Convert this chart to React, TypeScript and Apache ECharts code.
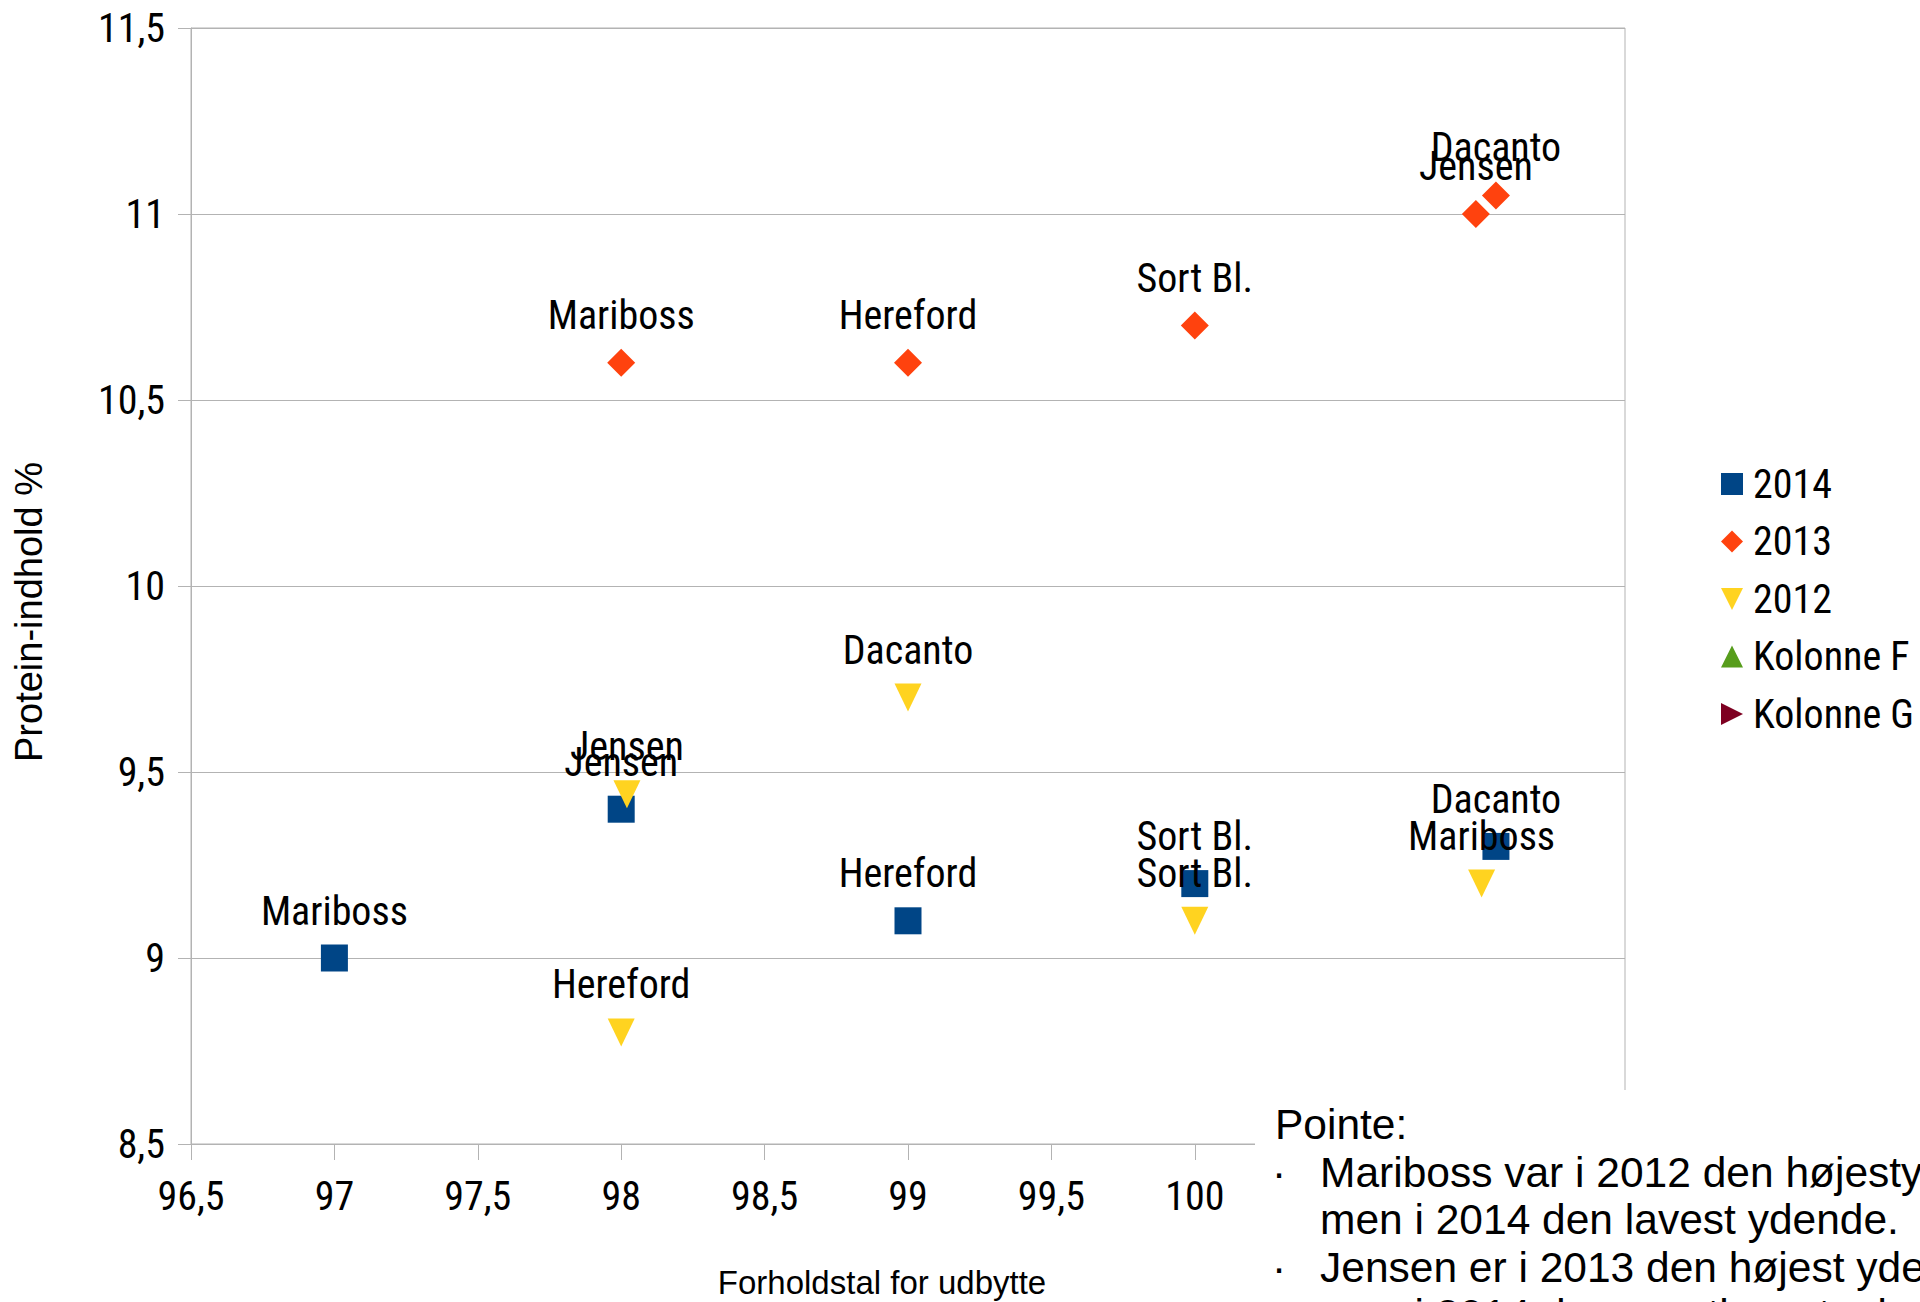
import React, { useEffect, useRef } from "react";
import * as echarts from "echarts";

const seriesNames = ["2014", "2013", "2012", "Kolonne F", "Kolonne G"];
const seriesColors = ["#004586", "#ff420e", "#ffd320", "#579d1c", "#7e0021"];

const names2014 = ["Mariboss", "Jensen", "Hereford", "Sort Bl.", "Dacanto"];
const x2014 = [97, 98, 99, 100, 101.05];
const y2014 = [9.0, 9.4, 9.1, 9.2, 9.3];

const names2013 = ["Mariboss", "Hereford", "Sort Bl.", "Jensen", "Dacanto"];
const x2013 = [98, 99, 100, 100.98, 101.05];
const y2013 = [10.6, 10.6, 10.7, 11.0, 11.05];

const names2012 = ["Hereford", "Jensen", "Dacanto", "Sort Bl.", "Mariboss"];
const x2012 = [98, 98.02, 99, 100, 101.0];
const y2012 = [8.8, 9.44, 9.7, 9.1, 9.2];

const xTitle = "Forholdstal for udbytte";
const yTitle = "Protein-indhold %";
const noteTitle = "Pointe:";
const noteLines = [
  "Mariboss var i 2012 den højestydende,",
  "men i 2014 den lavest ydende.",
  "Jensen er i 2013 den højest ydende,",
  "men i 2014 den næstlavest ydende.",
];
const noteBullets = ["·", "", "·", ""];

const FONT = '"Liberation Sans", Arial, sans-serif';
const NARROW = '"Roboto Condensed", "Liberation Sans", sans-serif';
const LABEL_SIZE = 40;

const DOWN_TRI = "path://M0,0 L10,0 L5,10 Z";
const RIGHT_TRI = "path://M0,0 L10,5 L0,10 Z";
const seriesSymbols = ["rect", "diamond", DOWN_TRI, "triangle", RIGHT_TRI];
const seriesSizes: any[] = [27, 28, [27, 28], 27, 27];

function pts(names: string[], xs: number[], ys: number[]) {
  return names.map((n, i) => ({ name: n, value: [xs[i], ys[i]] }));
}

export default function App() {
  const ref = useRef<HTMLDivElement>(null);
  useEffect(() => {
    if (!ref.current) return;
    const chart = echarts.init(ref.current, null, { renderer: "svg" });
    const datasets = [
      pts(names2014, x2014, y2014),
      pts(names2013, x2013, y2013),
      pts(names2012, x2012, y2012),
      [],
      [],
    ];
    const fmt = (v: number) => String(v).replace(".", ",");
    const noteGraphics: any[] = [];
    const noteStyle = { fontSize: 42.5, fontFamily: FONT, fill: "#000", textVerticalAlign: "middle" };
    noteGraphics.push({ type: "text", x: 1275, y: 1124, z: 101, style: { ...noteStyle, text: noteTitle } });
    noteLines.forEach((t, i) => {
      const y = 1172 + i * 47.6;
      if (noteBullets[i]) {
        noteGraphics.push({ type: "text", x: 1272, y, z: 101, style: { ...noteStyle, text: noteBullets[i] } });
      }
      noteGraphics.push({ type: "text", x: 1320, y, z: 101, style: { ...noteStyle, text: t } });
    });

    chart.setOption({
      animation: false,
      backgroundColor: "#fff",
      grid: {
        left: 191,
        right: 295,
        top: 28,
        bottom: 158,
        show: true,
        borderColor: "#b3b3b3",
        borderWidth: 1,
        containLabel: false,
      },
      xAxis: {
        type: "value",
        min: 96.5,
        max: 101.5,
        interval: 0.5,
        axisLine: { show: true, onZero: false, lineStyle: { color: "#b3b3b3", width: 1 } },
        axisTick: { show: true, inside: false, length: 16, lineStyle: { color: "#b3b3b3" } },
        splitLine: { show: false },
        axisLabel: { formatter: fmt, fontSize: LABEL_SIZE, fontFamily: NARROW, color: "#000", margin: 32 },
      },
      yAxis: {
        type: "value",
        min: 8.5,
        max: 11.5,
        interval: 0.5,
        axisLine: { show: true, onZero: false, lineStyle: { color: "#b3b3b3", width: 1 } },
        axisTick: { show: true, inside: false, length: 13, lineStyle: { color: "#b3b3b3" } },
        splitLine: { show: true, lineStyle: { color: "#b3b3b3", width: 1 } },
        axisLabel: { formatter: fmt, fontSize: LABEL_SIZE, fontFamily: NARROW, color: "#000", margin: 26 },
      },
      legend: {
        orient: "vertical",
        left: 1716,
        top: 459,
        itemWidth: 22,
        itemHeight: 22,
        itemGap: 17.5,
        textStyle: { fontSize: LABEL_SIZE, fontFamily: NARROW, color: "#000", padding: [0, 0, 0, 5] },
        data: seriesNames.map((n, i) => ({ name: n, icon: seriesSymbols[i] })),
      },
      graphic: [
        { type: "rect", z: 100, shape: { x: 1255, y: 1090, width: 665, height: 212 }, style: { fill: "#fff" } },
        {
          type: "text",
          x: 882,
          y: 1282,
          style: { text: xTitle, fontSize: 33, fontFamily: FONT, fill: "#000", textAlign: "center", textVerticalAlign: "middle" },
        },
        {
          type: "text",
          x: 29,
          y: 612,
          rotation: Math.PI / 2,
          style: { text: yTitle, fontSize: 38, fontFamily: FONT, fill: "#000", textAlign: "center", textVerticalAlign: "middle" },
        },
        ...noteGraphics,
      ],
      series: seriesNames.map((n, i) => ({
        name: n,
        type: "scatter",
        data: datasets[i],
        symbol: seriesSymbols[i],
        symbolSize: seriesSizes[i],
        itemStyle: { color: seriesColors[i], opacity: 1 },
        emphasis: { disabled: true },
        label: {
          show: true,
          position: "top",
          distance: 13.5,
          formatter: "{b}",
          color: "#000",
          fontSize: LABEL_SIZE,
          fontFamily: NARROW,
        },
      })),
    });
    return () => chart.dispose();
  }, []);
  return (
    <div
      ref={ref}
      style={{ position: "fixed", left: 0, top: 0, width: 1920, height: 1302, overflow: "hidden", background: "#fff" }}
    />
  );
}
